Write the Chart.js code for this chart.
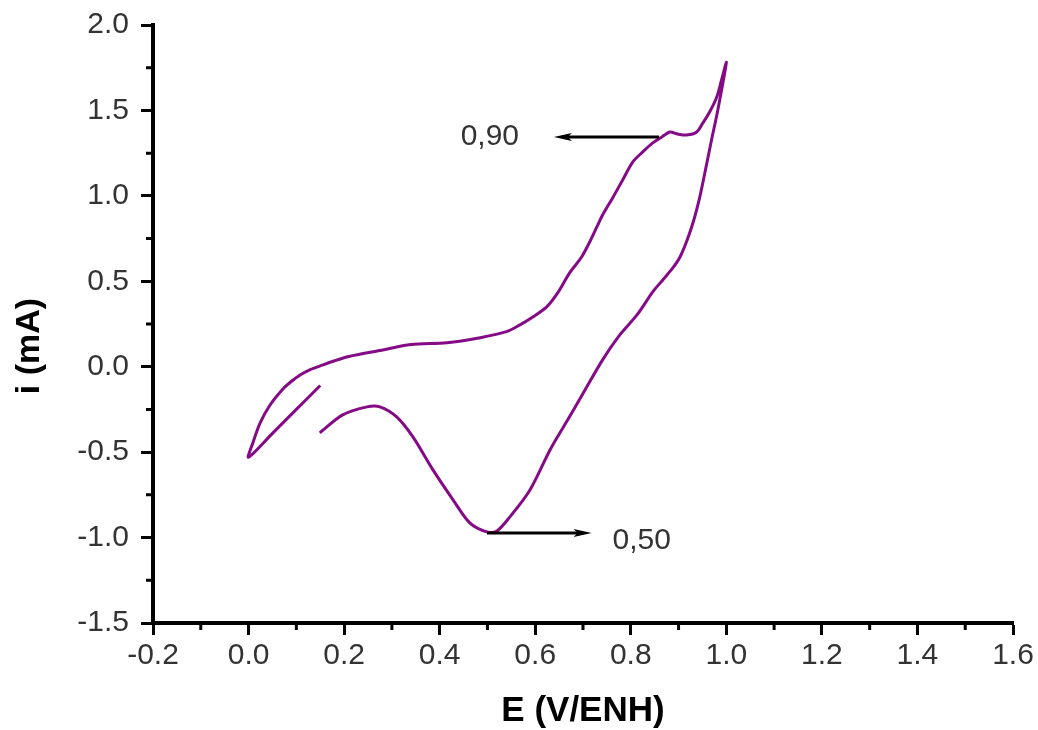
<!DOCTYPE html>
<html>
<head>
<meta charset="utf-8">
<script src="https://cdn.jsdelivr.net/npm/chart.js@4"></script>
<style>
  html, body { margin: 0; padding: 0; background: #fff; }
  #wrap { width: 1038px; height: 730px; }
</style>
</head>
<body>
<div id="wrap"><canvas id="cvChart"></canvas></div>
<script>
/* =========================
   DATA
========================= */

// voltammogram, in scan order: E (V/ENH)
const potential = [
    0.15, 0.10, 0.05, 0.00,
    0.009, 0.024, 0.045, 0.072, 0.09, 0.108, 0.128, 0.15, 0.18, 0.21, 0.275,
    0.34, 0.415, 0.485,
    0.54, 0.568, 0.595, 0.624, 0.647, 0.672, 0.697, 0.714, 0.729, 0.741, 0.762,
    0.783, 0.804, 0.825, 0.846, 0.865, 0.882, 0.898, 0.917, 0.938, 0.951,
    0.965, 0.980, 0.990, 1.00,
    0.982, 0.969, 0.952, 0.943, 0.932, 0.918, 0.903, 0.888, 0.867, 0.846,
    0.813, 0.777, 0.741, 0.70, 0.665, 0.631, 0.589, 0.547, 0.520, 0.499,
    0.463, 0.428, 0.386, 0.344, 0.310, 0.275, 0.248, 0.197, 0.149
];

// current, i (mA)
const current = [
    -0.11, -0.25, -0.39, -0.53,
    -0.446, -0.33, -0.224, -0.13, -0.085, -0.048, -0.018, 0.005, 0.035, 0.06, 0.095,
    0.13, 0.14, 0.17,
    0.205, 0.245, 0.291, 0.350, 0.432, 0.549, 0.642, 0.730, 0.818, 0.888, 0.988,
    1.093, 1.198, 1.257, 1.31, 1.345, 1.374, 1.362, 1.356, 1.374, 1.427,
    1.491, 1.579, 1.678, 1.78,
    1.50, 1.327, 1.093, 0.976, 0.859, 0.742, 0.642, 0.578, 0.508, 0.438,
    0.303, 0.186, 0.040, -0.157, -0.325, -0.487, -0.721, -0.879, -0.961, -0.967,
    -0.914, -0.779, -0.604, -0.411, -0.294, -0.235, -0.235, -0.282, -0.387
];

// axis ticks
const xTicks = [-0.2, 0.0, 0.2, 0.4, 0.6, 0.8, 1.0, 1.2, 1.4, 1.6];
const xTickLabels = ['-0.2', '0.0', '0.2', '0.4', '0.6', '0.8', '1.0', '1.2', '1.4', '1.6'];
const xMinorTicks = [-0.1, 0.1, 0.3, 0.5, 0.7, 0.9, 1.1, 1.3, 1.5];

const yTicks = [2.0, 1.5, 1.0, 0.5, 0.0, -0.5, -1.0, -1.5];
const yTickLabels = ['2.0', '1.5', '1.0', '0.5', '0.0', '-0.5', '-1.0', '-1.5'];
const yMinorTicks = [1.75, 1.25, 0.75, 0.25, -0.25, -0.75, -1.25];

// peak markers: label, arrow start (E, i), arrow end (E, i), label position (E, i)
const peakLabels = ['0,90', '0,50'];
const arrowFromE = [0.859, 0.499];
const arrowToE = [0.639, 0.718];
const arrowI = [1.345, -0.973];
const labelE = [0.505, 0.823];
const labelI = [1.345, -1.019];

/* =========================
   PLUGINS
========================= */

const minorTicksPlugin = {
    id: 'minorTicks',
    afterDraw(chart) {
        const ctx = chart.ctx;
        const xs = chart.scales.x;
        const ys = chart.scales.y;
        ctx.save();
        ctx.strokeStyle = '#000';
        ctx.lineWidth = 3;
        ctx.beginPath();
        xMinorTicks.forEach(v => {
            const px = xs.getPixelForValue(v);
            ctx.moveTo(px, ys.bottom);
            ctx.lineTo(px, ys.bottom + 7);
        });
        yMinorTicks.forEach(v => {
            const py = ys.getPixelForValue(v);
            ctx.moveTo(xs.left, py);
            ctx.lineTo(xs.left - 7, py);
        });
        ctx.stroke();
        ctx.restore();
    }
};

const peakArrowsPlugin = {
    id: 'peakArrows',
    afterDatasetsDraw(chart) {
        const ctx = chart.ctx;
        const xs = chart.scales.x;
        const ys = chart.scales.y;
        ctx.save();
        peakLabels.forEach((lbl, i) => {
            const x1 = xs.getPixelForValue(arrowFromE[i]);
            const x2 = xs.getPixelForValue(arrowToE[i]);
            const y = ys.getPixelForValue(arrowI[i]);
            const dir = Math.sign(x2 - x1);

            ctx.strokeStyle = '#000';
            ctx.lineWidth = 3;
            ctx.beginPath();
            ctx.moveTo(x1, y);
            ctx.lineTo(x2 - dir * 8, y);
            ctx.stroke();

            ctx.fillStyle = '#000';
            ctx.beginPath();
            ctx.moveTo(x2, y);
            ctx.lineTo(x2 - dir * 18, y - 4);
            ctx.lineTo(x2 - dir * 14, y);
            ctx.lineTo(x2 - dir * 18, y + 4);
            ctx.closePath();
            ctx.fill();

            ctx.fillStyle = '#333';
            ctx.font = '30px "Liberation Sans", Arial, sans-serif';
            ctx.textAlign = 'center';
            ctx.textBaseline = 'middle';
            ctx.fillText(lbl, xs.getPixelForValue(labelE[i]), ys.getPixelForValue(labelI[i]));
        });

        // y axis title
        ctx.fillStyle = '#000';
        ctx.font = 'bold 34px "Liberation Sans", Arial, sans-serif';
        ctx.textAlign = 'center';
        ctx.textBaseline = 'middle';
        ctx.translate(30, 346);
        ctx.rotate(-Math.PI / 2);
        ctx.fillText('i (mA)', 0, 0);
        ctx.restore();
    }
};

/* =========================
   CHART
========================= */

const points = potential.map((e, i) => ({ x: e, y: current[i] }));

new Chart(document.getElementById('cvChart'), {
    type: 'scatter',
    data: {
        datasets: [{
            data: points,
            showLine: true,
            borderColor: '#850a85',
            borderWidth: 3,
            pointRadius: 0,
            tension: 0.3,
            fill: false
        }]
    },
    options: {
        responsive: true,
        maintainAspectRatio: false,
        animation: false,
        layout: {
            padding: { top: 25, right: 25, left: 0, bottom: 0 }
        },
        plugins: {
            legend: { display: false },
            tooltip: { enabled: false }
        },
        scales: {
            x: {
                type: 'linear',
                min: -0.2,
                max: 1.6,
                afterBuildTicks: s => { s.ticks = xTicks.map(v => ({ value: v })); },
                afterFit: s => {
                    s.height = 107;
                    s.paddingLeft = 0;
                    s.paddingRight = 0;
                },
                border: { display: true, color: '#000', width: 4 },
                grid: {
                    drawOnChartArea: false,
                    drawTicks: true,
                    tickLength: 12,
                    tickWidth: 3,
                    tickColor: '#000'
                },
                ticks: {
                    color: '#333',
                    padding: 3,
                    maxRotation: 0,
                    font: { family: '"Liberation Sans", Arial, sans-serif', size: 30 },
                    callback: (v, i) => xTickLabels[i]
                },
                title: {
                    display: true,
                    text: 'E (V/ENH)',
                    color: '#000',
                    padding: { top: 0, bottom: -2 },
                    font: { family: '"Liberation Sans", Arial, sans-serif', size: 35, weight: 'bold' }
                }
            },
            y: {
                type: 'linear',
                min: -1.5,
                max: 2.0,
                afterBuildTicks: s => { s.ticks = yTicks.map(v => ({ value: v })); },
                afterFit: s => {
                    s.width = 153;
                    s.paddingTop = 0;
                    s.paddingBottom = 0;
                },
                border: { display: true, color: '#000', width: 4 },
                grid: {
                    drawOnChartArea: false,
                    drawTicks: true,
                    tickLength: 12,
                    tickWidth: 3,
                    tickColor: '#000'
                },
                ticks: {
                    color: '#333',
                    padding: 12,
                    font: { family: '"Liberation Sans", Arial, sans-serif', size: 30 },
                    callback: (v, i) => yTickLabels[i]
                }
            }
        }
    },
    plugins: [minorTicksPlugin, peakArrowsPlugin]
});
</script>
</body>
</html>
